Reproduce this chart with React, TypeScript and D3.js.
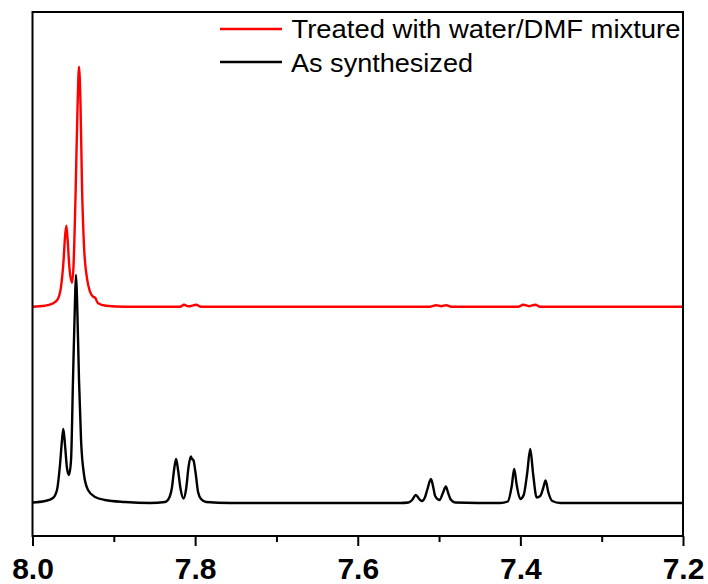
import React, { useEffect, useRef } from "react";
import * as d3 from "d3";

// Chemical shift (ppm) and intensity (a.u.)
const blackPpm = [
  8.0, 7.9846, 7.9748, 7.9699, 7.9662, 7.9637, 7.9621, 7.96, 7.9576, 7.9551, 7.9526, 7.9502,
  7.9477, 7.9465, 7.9452, 7.9428, 7.9403, 7.9366, 7.9317, 7.9231, 7.9108, 7.8862, 7.8554,
  7.837, 7.832, 7.8284, 7.8259, 7.8234, 7.821, 7.8179, 7.8142, 7.8111, 7.8081, 7.8053,
  7.8038, 7.8022, 7.7994, 7.7964, 7.7927, 7.7865, 7.757, 7.5478, 7.5376, 7.5331, 7.5285,
  7.5244, 7.5211, 7.5177, 7.5146, 7.51, 7.5072, 7.5048, 7.4995, 7.4953, 7.4916, 7.4888,
  7.4857, 7.4801, 7.4248, 7.4155, 7.4106, 7.4076, 7.4045, 7.4002, 7.3959, 7.3916, 7.3879,
  7.3842, 7.3799, 7.3756, 7.3719, 7.369, 7.3657, 7.3608, 7.3509, 7.2,
];
const blackInt = [
  0.5, 2, 5, 13, 38, 63, 74, 58, 35, 28, 43, 123,
  203, 228, 203, 123, 63, 28, 13, 6, 3, 1, 0,
  1, 5, 16, 33, 44, 33, 14, 4.5, 14, 36, 46.5,
  44, 43, 30, 11, 4, 1, 0, 0, 0.5, 3, 8,
  4, 2, 5, 13, 24, 16, 7, 3, 10, 16.5, 10,
  3.5, 0.5, 0, 1.5, 17, 34, 18, 4, 8, 30, 54,
  28, 5.5, 7, 15, 22.5, 11, 2, 0, 0,
];

const redPpm = [
  8.0, 7.9846, 7.9744, 7.9686, 7.9649, 7.9619, 7.96, 7.9584, 7.9569, 7.9545, 7.9514, 7.9496,
  7.9471, 7.9446, 7.9428, 7.9409, 7.9391, 7.9366, 7.9329, 7.9293, 7.9256, 7.9231, 7.9194,
  7.9096, 7.8862, 7.8185, 7.8136, 7.8087, 7.8062, 7.8038, 7.7988, 7.7927, 7.5109, 7.5035,
  7.4973, 7.4912, 7.485, 7.4027, 7.3965, 7.3891, 7.3817, 7.3756, 7.2,
];
const redInt = [
  0, 1, 3.5, 8, 20, 45, 70, 81, 68, 38, 24, 40,
  110, 200, 240, 200, 120, 60, 28, 15, 10, 9, 3.5,
  1, 0, 0, 2, 0.5, 0.5, 1, 2, 0, 0, 1.5,
  0.5, 1.5, 0, 0, 2, 0.5, 2, 0, 0,
];

const majorTicks = [8.0, 7.8, 7.6, 7.4, 7.2];
const minorTicks = [7.9, 7.7, 7.5, 7.3];
const legendLabels = ["Treated with water/DMF mixture", "As synthesized"];
const seriesColors = ["#ff0000", "#000000"];
const redOffset = 196.3;

const W = 708;
const H = 584;
const left = 32.5;
const right = 683;
const top = 12;
const bottom = 536;

export default function App() {
  const axisRef = useRef<SVGGElement>(null);
  const minorRef = useRef<SVGGElement>(null);

  const x = d3.scaleLinear().domain([8.0, 7.2]).range([left, right]);
  const y = d3.scaleLinear().domain([-33, 491]).range([bottom, top]);

  const line = d3
    .line<[number, number]>()
    .x((d) => x(d[0]))
    .y((d) => y(d[1]))
    .curve(d3.curveMonotoneX);

  const blackData = blackPpm.map((p, i) => [p, blackInt[i]] as [number, number]);
  const redData = redPpm.map((p, i) => [p, redInt[i] + redOffset] as [number, number]);

  useEffect(() => {
    if (axisRef.current) {
      const g = d3.select(axisRef.current);
      g.call(
        d3
          .axisBottom(x)
          .tickValues(majorTicks)
          .tickSize(10)
          .tickSizeOuter(0)
          .tickPadding(11.7)
          .tickFormat(d3.format(".1f"))
      );
      g.select(".domain").remove();
      g.selectAll(".tick line").attr("stroke", "#000").attr("stroke-width", 2);
      g.selectAll(".tick text")
        .attr("fill", "#000")
        .style("font-family", "Liberation Sans, Arial, sans-serif")
        .style("font-weight", "bold")
        .style("font-size", "30px");
    }
    if (minorRef.current) {
      const g = d3.select(minorRef.current);
      g.call(d3.axisBottom(x).tickValues(minorTicks).tickSize(6).tickSizeOuter(0).tickFormat(() => ""));
      g.select(".domain").remove();
      g.selectAll(".tick line").attr("stroke", "#000").attr("stroke-width", 2);
    }
  });

  return (
    <svg
      width={W}
      height={H}
      style={{ position: "absolute", left: 0, top: 0, background: "#fff" }}
    >
      <path d={line(redData) || ""} fill="none" stroke={seriesColors[0]} strokeWidth={2.4} />
      <path d={line(blackData) || ""} fill="none" stroke={seriesColors[1]} strokeWidth={2.4} />
      <rect
        x={left}
        y={top}
        width={right - left}
        height={bottom - top}
        fill="none"
        stroke="#000"
        strokeWidth={2}
      />
      <g ref={axisRef} transform={`translate(0,${bottom})`} />
      <g ref={minorRef} transform={`translate(0,${bottom})`} />
      <g fontFamily="Liberation Sans, Arial, sans-serif" fontSize={26} fill="#000">
        <line x1={220} x2={282} y1={29} y2={29} stroke={seriesColors[0]} strokeWidth={2.5} />
        <text x={291.5} y={38.3} textLength={389} lengthAdjust="spacingAndGlyphs">
          {legendLabels[0]}
        </text>
        <line x1={220} x2={282} y1={62} y2={62} stroke={seriesColors[1]} strokeWidth={2.5} />
        <text x={291} y={71.7} textLength={182} lengthAdjust="spacingAndGlyphs">
          {legendLabels[1]}
        </text>
      </g>
    </svg>
  );
}
